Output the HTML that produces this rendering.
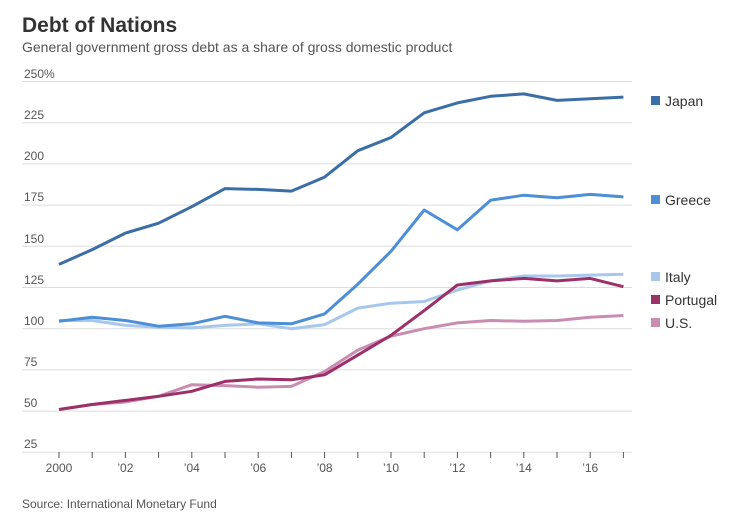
<!DOCTYPE html>
<html><head><meta charset="utf-8"><style>
body{margin:0;background:#fff;font-family:"Liberation Sans",sans-serif}
</style></head><body>
<svg width="752" height="524" xmlns="http://www.w3.org/2000/svg" font-family="Liberation Sans, sans-serif">
<text x="22" y="32" font-size="21" font-weight="bold" fill="#333">Debt of Nations</text>
<text x="22" y="52" font-size="14" fill="#555">General government gross debt as a share of gross domestic product</text>
<g stroke="#ddd" stroke-width="1">
<line x1="22" x2="632" y1="81.5" y2="81.5"/><line x1="22" x2="632" y1="122.7" y2="122.7"/><line x1="22" x2="632" y1="163.9" y2="163.9"/><line x1="22" x2="632" y1="205.1" y2="205.1"/><line x1="22" x2="632" y1="246.3" y2="246.3"/><line x1="22" x2="632" y1="287.5" y2="287.5"/><line x1="22" x2="632" y1="328.7" y2="328.7"/><line x1="22" x2="632" y1="369.9" y2="369.9"/><line x1="22" x2="632" y1="411.1" y2="411.1"/><line x1="22" x2="632" y1="452.3" y2="452.3"/>
</g>
<g font-size="12" fill="#555">
<text x="24" y="78">250%</text><text x="24" y="119">225</text><text x="24" y="160">200</text><text x="24" y="201">175</text><text x="24" y="243">150</text><text x="24" y="284">125</text><text x="24" y="325">100</text><text x="24" y="366">75</text><text x="24" y="407">50</text><text x="24" y="448">25</text>
</g>
<g stroke="#555" stroke-width="1">
<line x1="59" x2="59" y1="452" y2="458"/><line x1="92.2" x2="92.2" y1="452" y2="458"/><line x1="125.4" x2="125.4" y1="452" y2="458"/><line x1="158.6" x2="158.6" y1="452" y2="458"/><line x1="191.8" x2="191.8" y1="452" y2="458"/><line x1="225" x2="225" y1="452" y2="458"/><line x1="258.2" x2="258.2" y1="452" y2="458"/><line x1="291.4" x2="291.4" y1="452" y2="458"/><line x1="324.6" x2="324.6" y1="452" y2="458"/><line x1="357.8" x2="357.8" y1="452" y2="458"/><line x1="391" x2="391" y1="452" y2="458"/><line x1="424.2" x2="424.2" y1="452" y2="458"/><line x1="457.4" x2="457.4" y1="452" y2="458"/><line x1="490.6" x2="490.6" y1="452" y2="458"/><line x1="523.8" x2="523.8" y1="452" y2="458"/><line x1="557" x2="557" y1="452" y2="458"/><line x1="590.2" x2="590.2" y1="452" y2="458"/><line x1="623.4" x2="623.4" y1="452" y2="458"/>
</g>
<g font-size="12" fill="#555" text-anchor="middle">
<text x="59" y="472">2000</text><text x="125.4" y="472">’02</text><text x="191.8" y="472">’04</text><text x="258.2" y="472">’06</text><text x="324.6" y="472">’08</text><text x="391" y="472">’10</text><text x="457.4" y="472">’12</text><text x="523.8" y="472">’14</text><text x="590.2" y="472">’16</text>
</g>
<g fill="none" stroke-width="3" stroke-linejoin="round">
<polyline stroke="#c98db2" points="59,409.5 92.2,404.5 125.4,402 158.6,396.3 191.8,384.7 225,385.6 258.2,387.2 291.4,386.4 324.6,371.5 357.8,350.1 391,336.1 424.2,328.7 457.4,322.9 490.6,320.5 523.8,321.3 557,320.5 590.2,317.2 623.4,315.5"/>
<polyline stroke="#a7c7ec" points="59,320.5 92.2,320.5 125.4,325.4 158.6,327.1 191.8,327.9 225,325.4 258.2,323.8 291.4,328.7 324.6,324.6 357.8,308.1 391,303.2 424.2,301.5 457.4,290 490.6,280.9 523.8,276 557,276 590.2,275.1 623.4,274.3"/>
<polyline stroke="#9c3069" points="59,409.5 92.2,404.5 125.4,400.4 158.6,396.3 191.8,391.3 225,381.4 258.2,379 291.4,379.8 324.6,374.8 357.8,355.1 391,335.3 424.2,310.6 457.4,285 490.6,280.9 523.8,278.4 557,280.9 590.2,278.4 623.4,286.7"/>
<polyline stroke="#4d8fd6" points="59,321.3 92.2,317.2 125.4,320.5 158.6,326.2 191.8,323.8 225,316.3 258.2,322.9 291.4,323.8 324.6,313.9 357.8,284.2 391,251.3 424.2,210 457.4,229.8 490.6,200.2 523.8,195.2 557,197.7 590.2,194.4 623.4,196.9"/>
<polyline stroke="#3b6ea6" points="59,264.4 92.2,249.6 125.4,233.1 158.6,223.2 191.8,206.7 225,188.6 258.2,189.4 291.4,191.1 324.6,177.1 357.8,150.7 391,137.5 424.2,112.8 457.4,102.9 490.6,96.3 523.8,93.9 557,100.4 590.2,98.8 623.4,97.1"/>
</g>
<g font-size="14" fill="#333">
<rect x="651" y="96" width="9" height="9" fill="#3b6ea6"/><text x="665" y="106">Japan</text>
<rect x="651" y="195" width="9" height="9" fill="#4d8fd6"/><text x="665" y="205">Greece</text>
<rect x="651" y="272" width="9" height="9" fill="#a7c7ec"/><text x="665" y="282">Italy</text>
<rect x="651" y="295" width="9" height="9" fill="#9c3069"/><text x="665" y="305">Portugal</text>
<rect x="651" y="318" width="9" height="9" fill="#c98db2"/><text x="665" y="328">U.S.</text>
</g>
<text x="22" y="508" font-size="12" fill="#555">Source: International Monetary Fund</text>
</svg>
</body></html>
